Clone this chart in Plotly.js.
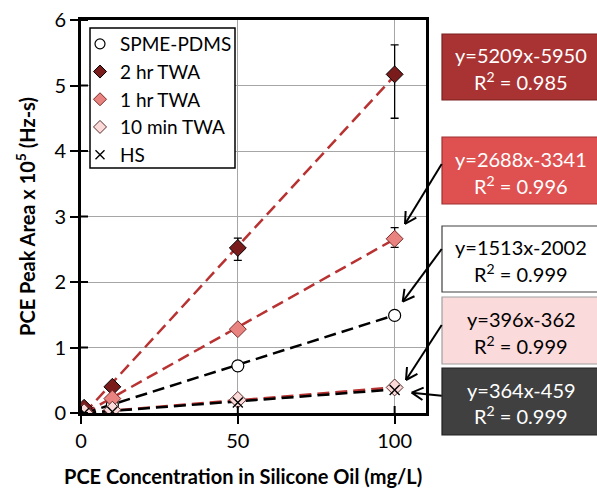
<!DOCTYPE html>
<html>
<head>
<meta charset="utf-8">
<script src="https://cdn.plot.ly/plotly-3.0.1.min.js"></script>
<style>html,body{margin:0;padding:0;background:#fff}#chart{width:597px;height:490px}</style>
</head>
<body>
<div id="chart"></div>
<script>
// ---- data ----
const conc = [1, 10, 50, 100];
const seriesNames = ['SPME-PDMS', '2 hr TWA', '1 hr TWA', '10 min TWA', 'HS'];
const spme = [0.01, 0.12, 0.72, 1.49];
const twa2 = [0.08, 0.40, 2.52, 5.17];
const twa1 = [0.02, 0.22, 1.28, 2.66];
const twa10 = [0.01, 0.05, 0.20, 0.39];
const hs = [0.00, 0.02, 0.16, 0.35];
const twa2ErrPlus = [null, null, 0.15, 0.45];
const twa2ErrMinus = [null, null, 0.19, 0.67];
const twa1ErrPlus = [null, null, null, 0.17];
const twa1ErrMinus = [null, null, null, 0.13];
// trendline equations (peak area in Hz-s vs mg/L), displayed in units of 1e5
const fitLabels = ['2 hr TWA', '1 hr TWA', 'SPME-PDMS', '10 min TWA', 'HS'];
const fitSlopes = [5209, 2688, 1513, 396, 364];
const fitIntercepts = [-5950, -3341, -2002, -362, -459];
const fitR2 = ['0.985', '0.996', '0.999', '0.999', '0.999'];
const xTicks = [0, 50, 100];
const yTicks = [0, 1, 2, 3, 4, 5, 6];
const xTitle = 'PCE Concentration in Silicone Oil (mg/L)';
const yTitle = 'PCE Peak Area x 10<sup>5</sup> (Hz-s)';

// ---- layout helpers ----
const FONT = 'Lato, "Open Sans", sans-serif';
const L = 81, R = 426, T = 20, B = 413, W = 597, H = 490;
const px = x => (x - L) / (R - L);
const py = y => (B - y) / (B - T);

const fitColors = ['#b83232', '#b83232', '#000000', '#b83232', '#000000'];
const xmin = Math.min(...conc), xmax = Math.max(...conc);
const traces = [];
fitSlopes.forEach((m, i) => {
  traces.push({
    x: [xmin, xmax],
    y: [(m * xmin + fitIntercepts[i]) / 1e5, (m * xmax + fitIntercepts[i]) / 1e5],
    mode: 'lines', showlegend: false, hoverinfo: 'skip',
    line: {color: fitColors[i], width: 2.5, dash: '12px,6px'}
  });
});
const errStyle = {type: 'data', symmetric: false, color: '#000', thickness: 1.3, width: 4};
const markerStyles = [
  {symbol: 'circle', size: 12, color: '#ffffff', line: {color: '#000', width: 1.2}},
  {symbol: 'diamond', size: 13, color: '#7b1c1c', line: {color: '#000', width: 1}},
  {symbol: 'diamond', size: 13, color: '#e8837f', line: {color: '#7a2a2a', width: 1}},
  {symbol: 'diamond', size: 13, color: '#fbdada', line: {color: '#5a2a2a', width: 1}},
  {symbol: 'x-thin-open', size: 10, color: '#000', line: {color: '#000', width: 1.4}}
];
const seriesData = [spme, twa2, twa1, twa10, hs];
const errs = [null, [twa2ErrPlus, twa2ErrMinus], [twa1ErrPlus, twa1ErrMinus], null, null];
seriesData.forEach((ys, i) => {
  const t = {x: conc, y: ys, name: seriesNames[i], mode: 'markers', showlegend: false, marker: markerStyles[i]};
  if (errs[i]) t.error_y = Object.assign({array: errs[i][0], arrayminus: errs[i][1]}, errStyle);
  traces.push(t);
});
// legend entries (smaller symbols, as in the original legend)
seriesNames.forEach((n, i) => {
  const ms = Object.assign({}, markerStyles[i], {size: i === 4 ? 9 : 10});
  traces.push({x: [null], y: [null], name: n, mode: 'markers', legendgroup: 'g' + i, marker: ms, hoverinfo: 'skip'});
});

const shapes = [], annotations = [];
// legend frame (drawn as a shape so the entries can sit closer to its edge)
shapes.push({type: 'rect', xref: 'paper', yref: 'paper', layer: 'above',
  x0: px(90), x1: px(235), y0: py(168), y1: py(28),
  fillcolor: '#ffffff', line: {color: '#000', width: 1.5}});
// inside halves of the crossing tick marks
yTicks.forEach(v => shapes.push({type: 'line', xref: 'paper', yref: 'y',
  x0: 0, x1: 7 / (R - L), y0: v, y1: v, line: {color: '#000', width: 2}}));
xTicks.forEach(v => shapes.push({type: 'line', xref: 'x', yref: 'paper',
  x0: v, x1: v, y0: 0, y1: 7 / (B - T), line: {color: '#000', width: 2}}));

// boxes for the fit equations
const boxTops = [34, 137, 226, 297, 368];
const boxBots = [100, 204, 292, 364, 435];
const boxFill = ['#a93232', '#df5050', '#ffffff', '#fadada', '#404040'];
const boxLine = ['#7a2020', '#a03030', '#404040', '#a0a0a0', '#202020'];
const boxText = ['#ffffff', '#ffffff', '#000000', '#000000', '#ffffff'];
const boxL = 442, boxR = 600, boxC = 521;
fitSlopes.forEach((m, i) => {
  shapes.push({type: 'rect', xref: 'paper', yref: 'paper',
    x0: px(boxL), x1: px(boxR), y0: py(boxBots[i]), y1: py(boxTops[i]),
    fillcolor: boxFill[i], line: {color: boxLine[i], width: 1.2}});
  const mid = (boxTops[i] + boxBots[i]) / 2;
  annotations.push({xref: 'paper', yref: 'paper', x: px(boxC), y: py(mid - 12),
    text: 'y=' + m + 'x' + fitIntercepts[i], showarrow: false,
    font: {family: FONT, size: 20, color: boxText[i]}, xanchor: 'center', yanchor: 'middle'});
  annotations.push({xref: 'paper', yref: 'paper', x: px(boxC), y: py(mid + 14),
    text: 'R<sup>2</sup> = ' + fitR2[i], showarrow: false,
    font: {family: FONT, size: 20, color: boxText[i]}, xanchor: 'center', yanchor: 'middle'});
});
// arrows as shapes: [tailX, tailY, tipX, tipY] in page pixels
const arrows = [[441.7, 164, 405, 224], [441.7, 249, 402.7, 301.7], [441.7, 325, 406, 380], [441.7, 395.7, 411.7, 392.7]];
arrows.forEach(a => {
  const [tx, ty, hx, hy] = a;
  shapes.push({type: 'line', xref: 'paper', yref: 'paper',
    x0: px(tx), y0: py(ty), x1: px(hx), y1: py(hy), line: {color: '#000', width: 2}});
  const ang = Math.atan2(ty - hy, tx - hx);
  const len = 13, spread = 0.5;
  [ang + spread, ang - spread].forEach(t => {
    shapes.push({type: 'line', xref: 'paper', yref: 'paper',
      x0: px(hx), y0: py(hy), x1: px(hx + len * Math.cos(t)), y1: py(hy + len * Math.sin(t)),
      line: {color: '#000', width: 2}});
  });
});
// x-axis title (placed as an annotation to match its horizontal offset)
annotations.push({xref: 'paper', yref: 'paper', x: px(243), y: py(476), xanchor: 'center', yanchor: 'middle',
  text: '<b>' + xTitle + '</b>', showarrow: false, font: {family: FONT, size: 20, color: '#000'}});

const layout = {
  width: W, height: H,
  margin: {l: L, r: W - R, t: T, b: H - B},
  paper_bgcolor: '#fff', plot_bgcolor: '#fff',
  font: {family: FONT, size: 20, color: '#000'},
  showlegend: true,
  legend: {x: px(80), y: py(25), xanchor: 'left', yanchor: 'top',
    bgcolor: 'rgba(0,0,0,0)', borderwidth: 0,
    font: {family: FONT, size: 19, color: '#000'}, tracegroupgap: 0, itemwidth: 30},
  xaxis: {range: [0, 110], tickvals: xTicks, ticktext: xTicks.map(String),
    showgrid: true, gridcolor: '#a6a6a6', gridwidth: 1, zeroline: false,
    showline: true, linecolor: '#000', linewidth: 3, mirror: true,
    ticks: 'outside', ticklen: 8, tickwidth: 2, tickcolor: '#000',
    tickfont: {family: FONT, size: 20}},
  yaxis: {range: [0, 6], tickvals: yTicks, ticktext: yTicks.map(String),
    showgrid: true, gridcolor: '#a6a6a6', gridwidth: 1, zeroline: false,
    showline: true, linecolor: '#000', linewidth: 3, mirror: true,
    ticks: 'outside', ticklen: 8, tickwidth: 2, tickcolor: '#000',
    tickfont: {family: FONT, size: 20},
    title: {text: '<b>' + yTitle + '</b>', font: {family: FONT, size: 20}, standoff: 14}},
  shapes: shapes,
  annotations: annotations
};

Plotly.newPlot('chart', traces, layout, {displayModeBar: false, staticPlot: true});
</script>
</body>
</html>
